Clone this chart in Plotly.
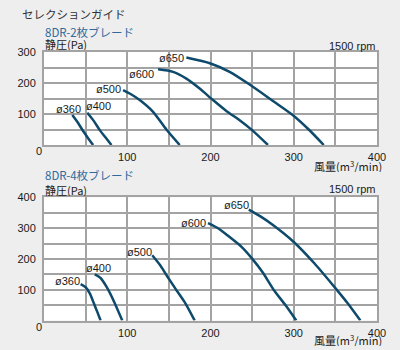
import plotly.graph_objects as go

# Fan performance curves (static pressure vs. air flow) at 1500 rpm
sizes = ["ø360", "ø400", "ø500", "ø600", "ø650"]

# 8DR, 2 blades
flow_2 = [
    [34, 40, 47, 53, 59],
    [52, 60, 67, 74, 81],
    [95, 105, 115, 131, 147, 163],
    [137, 155, 171, 187, 203, 219, 235, 250, 269],
    [171, 200, 223, 247, 275, 299, 318, 336],
]
press_2 = [
    [97, 75, 45, 22, 0],
    [104, 77, 48, 24, 0],
    [177, 163, 145, 107, 50, 0],
    [244, 236, 214, 182, 145, 110, 80, 48, 0],
    [282, 263, 236, 195, 142, 96, 50, 0],
]
label_xy_2 = [(29, 115), (65, 125), (78, 180), (117.5, 230), (153, 281)]

# 8DR, 4 blades
flow_4 = [
    [44, 50, 55, 60, 64, 68],
    [61, 68, 75, 80, 85, 94],
    [130, 140, 150, 160, 170, 181],
    [197, 210, 223, 237, 250, 263, 276, 290, 303],
    [246, 260, 275, 300, 325, 350, 365, 380],
]
press_4 = [
    [118, 108, 88, 55, 28, 0],
    [150, 138, 110, 85, 56, 0],
    [212, 178, 135, 95, 55, 0],
    [316, 298, 271, 240, 201, 155, 99, 50, 0],
    [360, 338, 310, 255, 185, 105, 55, 0],
]
label_xy_4 = [(28.5, 129), (65, 169), (115, 221), (180, 316), (231, 374)]

x_ticks = [100, 200, 300, 400]
y_ticks_2 = [100, 200, 300]
y_ticks_4 = [100, 200, 300, 400]

BG = "#eeeeee"
GRID = "#a3a3a3"
CURVE = "#0e4a6c"
TXT = "#1a1a1a"
BLUE = "#2f6b9c"
LATIN = "Liberation Sans, Arial, sans-serif"
CJK = "Noto Sans CJK JP, sans-serif"
W, H = 400, 350

fig = go.Figure()

panels = [
    ("x", "y", flow_2, press_2, label_xy_2),
    ("x2", "y2", flow_4, press_4, label_xy_4),
]
for xa, ya, flows, presses, lab in panels:
    for name, q, p, (lx, ly) in zip(sizes, flows, presses, lab):
        fig.add_trace(go.Scatter(
            x=q, y=p, mode="lines", xaxis=xa, yaxis=ya, showlegend=False,
            line=dict(color=CURVE, width=2.5, shape="spline", smoothing=0.7),
            hoverinfo="skip",
        ))
        fig.add_annotation(x=lx, y=ly, xref=xa, yref=ya, text=name,
                           showarrow=False, xanchor="center", yanchor="middle",
                           font=dict(family=LATIN, size=11, color=TXT))

def px_x(v):
    return v / W

def px_y(v):
    return 1 - v / H

axis_common = dict(
    showgrid=True, gridcolor=GRID, gridwidth=1.5,
    minor=dict(dtick=50, showgrid=True, gridcolor=GRID, gridwidth=1.5, ticks=""),
    showline=True, linecolor=GRID, linewidth=2, mirror=True,
    zeroline=False, ticks="", fixedrange=True, automargin=False,
    tickfont=dict(family=LATIN, size=11, color=TXT),
)

x_dom = [px_x(44), px_x(377)]
fig.update_layout(
    width=W, height=H,
    margin=dict(l=0, r=0, t=0, b=0),
    paper_bgcolor=BG, plot_bgcolor="white",
    xaxis=dict(domain=x_dom, range=[0, 400], tickvals=x_ticks,
               anchor="y", ticklabelstandoff=1, **axis_common),
    yaxis=dict(domain=[px_y(145), px_y(52)], range=[0, 300], tickvals=y_ticks_2,
               anchor="x", ticklabelstandoff=4, **axis_common),
    xaxis2=dict(domain=x_dom, range=[0, 400], tickvals=x_ticks,
                anchor="y2", ticklabelstandoff=1, **axis_common),
    yaxis2=dict(domain=[px_y(320.5), px_y(197.3)], range=[0, 400], tickvals=y_ticks_4,
                anchor="x2", ticklabelstandoff=4, **axis_common),
)

def note(x, y, text, size=11, color=TXT, family=LATIN, xanchor="left", height=None):
    fig.add_annotation(x=px_x(x), y=px_y(y), xref="paper", yref="paper",
                       text=text, showarrow=False, xanchor=xanchor, yanchor="middle",
                       height=height,
                       font=dict(family=family, size=size, color=color))

note(20, 14, "セレクションガイド", size=11.5, color="#333333", family=CJK)

note(43, 32, "8DR-2枚ブレード", size=11.5, color=BLUE, family=CJK, height=12)
note(43, 44.5, "静圧(Pa)", size=11, family=CJK, height=12)
note(377, 46, "1500 rpm", xanchor="right")
note(38.5, 151, "0", xanchor="center")
note(384, 165.5, "風量(m<sup>3</sup>/min)", size=11, family=CJK, xanchor="right", height=12)

note(43, 175, "8DR-4枚ブレード", size=11.5, color=BLUE, family=CJK, height=12)
note(43, 189.5, "静圧(Pa)", size=11, family=CJK, height=12)
note(377, 189, "1500 rpm", xanchor="right")
note(38.5, 327, "0", xanchor="center")
note(384, 339.5, "風量(m<sup>3</sup>/min)", size=11, family=CJK, xanchor="right", height=12)

fig.write_html("out.html")
